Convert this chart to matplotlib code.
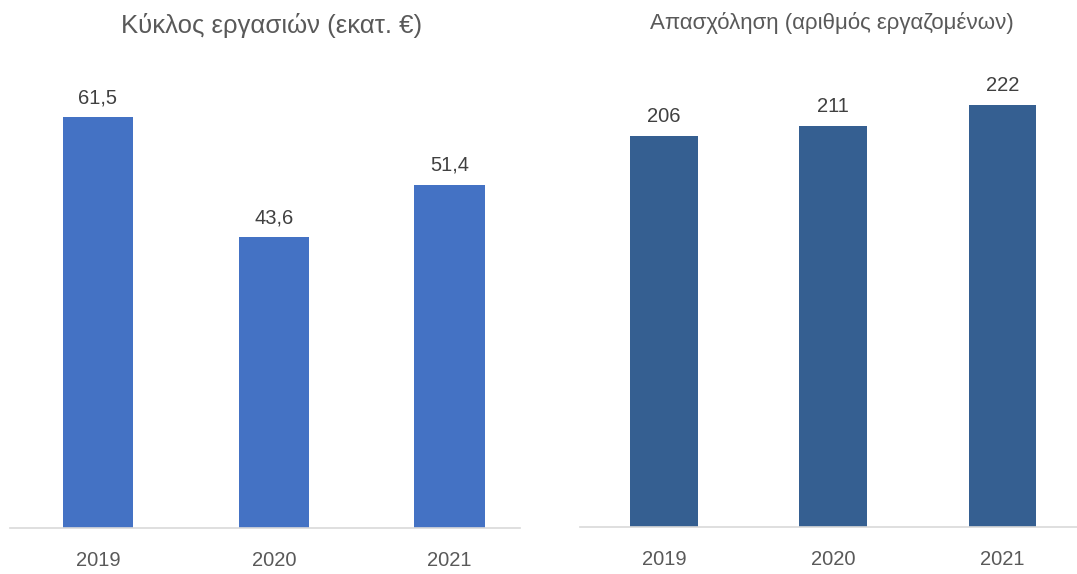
import matplotlib.pyplot as plt

# Data
years = ['2019', '2020', '2021']
turnover = [61.5, 43.6, 51.4]
turnover_labels = ['61,5', '43,6', '51,4']
employees = [206, 211, 222]
employee_labels = ['206', '211', '222']

plt.rcParams['font.family'] = ['Liberation Sans', 'DejaVu Sans']

fig = plt.figure(figsize=(10.77, 5.74), dpi=100)

W, H = 1077, 574


def px_axes(x0, y0, x1, y1):
    # pixel box (top-left origin) -> figure fraction axes
    return fig.add_axes([x0 / W, (H - y1) / H, (x1 - x0) / W, (y1 - y0) / H])


def style(ax):
    for s in ['top', 'right', 'left']:
        ax.spines[s].set_visible(False)
    ax.spines['bottom'].set_color('#D9D9D9')
    ax.spines['bottom'].set_linewidth(1.2)
    ax.set_yticks([])
    ax.tick_params(axis='x', length=0, pad=16.5, labelsize=14.5, labelcolor='#595959')


# Left chart: turnover
ax1 = px_axes(10, 90, 520, 528)
x = range(len(years))
bars = ax1.bar(x, turnover, width=0.4, color='#4472C4')
ax1.set_xlim(-0.5, 2.4)
ax1.set_ylim(0, 438 / 6.68)
ax1.set_xticks(list(x))
ax1.set_xticklabels(years)
for b, lab in zip(bars, turnover_labels):
    ax1.annotate(lab, (b.get_x() + b.get_width() / 2, b.get_height()),
                 xytext=(0, 7), textcoords='offset points',
                 ha='center', va='bottom', fontsize=14.5, color='#404040')
style(ax1)
fig.text(272 / W, 1 - 25 / H, 'Κύκλος εργασιών (εκατ. €)', ha='center', va='center',
         fontsize=18.5, color='#595959')

# Right chart: employment
ax2 = px_axes(580, 90, 1077, 527)
bars2 = ax2.bar(x, employees, width=0.4, color='#355F91')
ax2.set_xlim(-0.497, 2.44)
ax2.set_ylim(0, 437 / 1.90)
ax2.set_xticks(list(x))
ax2.set_xticklabels(years)
for b, lab in zip(bars2, employee_labels):
    ax2.annotate(lab, (b.get_x() + b.get_width() / 2, b.get_height()),
                 xytext=(0, 7), textcoords='offset points',
                 ha='center', va='bottom', fontsize=14.5, color='#404040')
style(ax2)
fig.text(832 / W, 1 - 23 / H, 'Απασχόληση (αριθμός εργαζομένων)', ha='center', va='center',
         fontsize=16, color='#595959')

fig.savefig('out.png', dpi=100)
